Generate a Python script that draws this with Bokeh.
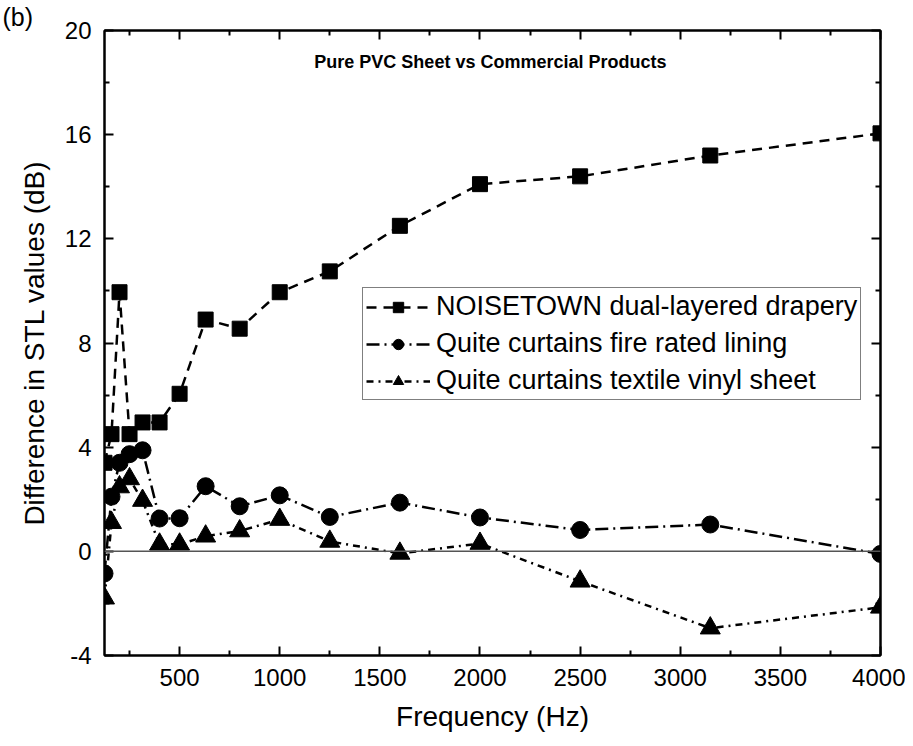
from bokeh.plotting import figure
from bokeh.models import (FixedTicker, LinearAxis, Legend, LegendItem, Label, Span,
                          ColumnDataSource, Title)
from bokeh.embed import file_html
from bokeh.resources import INLINE

# ---- data ----
freq = [125, 160, 200, 250, 315, 400, 500, 630, 800, 1000, 1250, 1600, 2000, 2500, 3150, 4000]
noisetown = [3.4, 4.5, 9.95, 4.5, 4.95, 4.95, 6.05, 8.9, 8.55, 9.95, 10.75, 12.5, 14.1, 14.4, 15.2, 16.05]
fire_rated = [-0.85, 2.1, 3.4, 3.73, 3.88, 1.26, 1.27, 2.5, 1.73, 2.15, 1.32, 1.87, 1.3, 0.82, 1.03, -0.1]
textile_vinyl = [-1.8, 1.1, 2.47, 2.78, 1.95, 0.27, 0.27, 0.58, 0.78, 1.22, 0.38, -0.08, 0.3, -1.15, -2.95, -2.15]
series_names = ["NOISETOWN dual-layered drapery",
                "Quite curtains fire rated lining",
                "Quite curtains textile vinyl sheet"]
x_major = [500, 1000, 1500, 2000, 2500, 3000, 3500, 4000]
x_minor = [250, 750, 1250, 1750, 2250, 2750, 3250, 3750]
y_major = [-4, 0, 4, 8, 12, 16, 20]
y_minor = [-2, 2, 6, 10, 14, 18]
title_text = "Pure PVC Sheet vs Commercial Products"
panel_tag = "(b)"
x_label = "Frequency (Hz)"
y_label = "Difference in STL values (dB)"

FONT = "Liberation Sans"

src = ColumnDataSource(dict(f=freq, a=noisetown, b=fire_rated, c=textile_vinyl))

p = figure(width=905, height=740, x_range=(125, 4000), y_range=(-4, 20),
           output_backend="svg", toolbar_location=None,
           min_border_left=104, min_border_right=25, min_border_top=30, min_border_bottom=85,
           x_axis_label=x_label, y_axis_label=y_label)
p.xgrid.visible = False
p.ygrid.visible = False
p.outline_line_color = "black"
p.outline_line_width = 2
p.background_fill_color = "white"
p.border_fill_color = "white"

xt = FixedTicker(ticks=x_major, minor_ticks=x_minor)
yt = FixedTicker(ticks=y_major, minor_ticks=y_minor)


def style_axis(ax, labels=True):
    ax.major_tick_in = 9
    ax.major_tick_out = 0
    ax.minor_tick_in = 5
    ax.minor_tick_out = 0
    ax.axis_line_width = 2
    ax.major_tick_line_width = 2
    ax.minor_tick_line_width = 2
    ax.axis_line_color = "black"
    ax.major_tick_line_color = "black"
    ax.minor_tick_line_color = "black"
    ax.major_label_text_font = FONT
    ax.major_label_text_color = "black"
    ax.axis_label_text_font = FONT
    ax.axis_label_text_font_style = "normal"
    ax.axis_label_text_color = "black"
    if not labels:
        ax.major_label_overrides = {t: "" for t in ax.ticker.ticks}
        ax.major_label_standoff = 0
        ax.major_label_text_font_size = "1px"


xa = p.xaxis[0]
xa.ticker = xt
style_axis(xa)
xa.major_label_text_font_size = "24px"
xa.major_label_standoff = 13
xa.axis_label_text_font_size = "28px"
xa.axis_label_standoff = 12

ya = p.yaxis[0]
ya.ticker = yt
style_axis(ya)
ya.major_label_text_font_size = "24px"
ya.major_label_standoff = 13
ya.axis_label_text_font_size = "28px"
ya.axis_label_standoff = 12
ya.major_label_overrides = {v: str(v) for v in y_major}

top = LinearAxis(ticker=xt)
style_axis(top, labels=False)
p.add_layout(top, "above")
right = LinearAxis(ticker=yt)
style_axis(right, labels=False)
p.add_layout(right, "right")

# panel tag "(b)" as a title placed at the top-left corner
tag = Title(text=panel_tag, align="left", offset=-102, standoff=0,
            text_font=FONT, text_font_size="25px", text_font_style="normal",
            text_color="black")
p.add_layout(tag, "above")

p.add_layout(Span(location=0, dimension="width", line_color="#555555", line_width=1.5))

lw = 2.5
l1 = p.line("f", "a", source=src, line_color="black", line_width=lw, line_dash="10 7")
s1 = p.scatter("f", "a", source=src, marker="square", size=15, color="black")
l2 = p.line("f", "b", source=src, line_color="black", line_width=lw, line_dash="13 5 2 5")
s2 = p.scatter("f", "b", source=src, marker="circle", size=17, color="black")
l3 = p.line("f", "c", source=src, line_color="black", line_width=lw, line_dash="7 5 2 5")
s3 = p.scatter("f", "c", source=src, marker="triangle", size=20, color="black")

legend = Legend(items=[LegendItem(label=series_names[0], renderers=[l1, s1]),
                       LegendItem(label=series_names[1], renderers=[l2, s2]),
                       LegendItem(label=series_names[2], renderers=[l3, s3])],
                location=(258, 255))
legend.label_text_font = FONT
legend.label_text_font_size = "27px"
legend.label_text_color = "black"
legend.glyph_width = 64
legend.glyph_height = 26
legend.label_height = 26
legend.label_standoff = 6
legend.spacing = 6
legend.padding = 3
legend.margin = 0
legend.border_line_color = "black"
legend.border_line_width = 1.5
legend.background_fill_alpha = 1
p.add_layout(legend, "center")

p.add_layout(Label(x=2052, y=18.8, text=title_text, text_font=FONT, text_font_size="18px",
                   text_font_style="bold", text_align="center", text_baseline="middle",
                   text_color="black"))

open("out.html", "w").write(file_html(p, INLINE))
